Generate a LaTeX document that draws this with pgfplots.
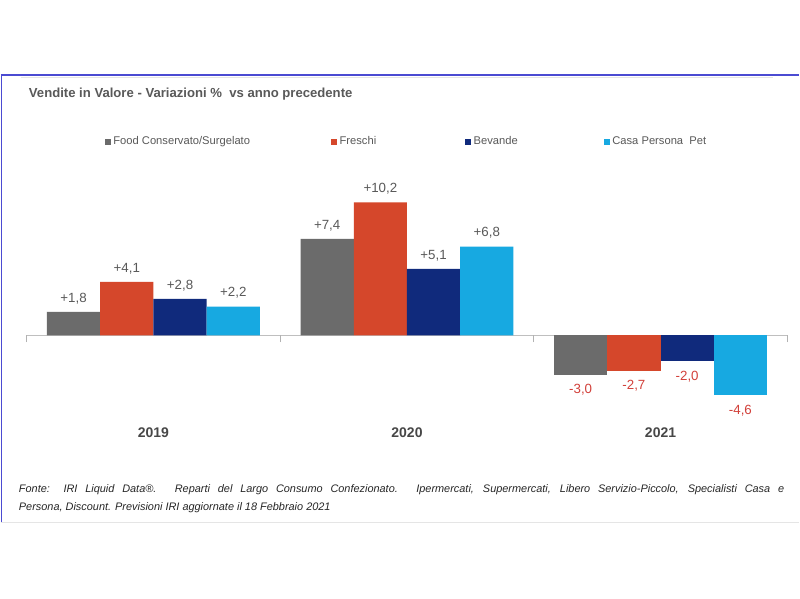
\documentclass[border=0pt]{standalone}
\usepackage{pgfplots}
\pgfplotsset{compat=1.18}
\usepackage{fontspec}
\setmainfont{Liberation Sans}
\definecolor{cGray}{HTML}{6B6B6B}
\definecolor{cRed}{HTML}{D5472B}
\definecolor{cNavy}{HTML}{102A7C}
\definecolor{cBlue}{HTML}{17A9E1}
\definecolor{txtGray}{HTML}{595959}
\definecolor{negRed}{HTML}{D2403A}
\definecolor{frameBlue}{HTML}{4B4BD2}
\begin{document}
\begin{tikzpicture}
\fill[white] (0,0) rectangle (600pt,450pt);
\draw[black!10, line width=0.8pt] (15pt,391.5pt) -- (580pt,391.5pt);
\draw[black!10, line width=0.8pt] (0pt,57.5pt) -- (600pt,57.5pt);
\draw[frameBlue, line width=1.1pt] (0pt,393.75pt) -- (600pt,393.75pt);
\draw[frameBlue, line width=1.1pt] (0.6pt,393.75pt) -- (0.6pt,57.5pt);
\node[anchor=base west, inner sep=0pt, font=\bfseries\fontsize{9.85}{11}\selectfont, text=txtGray] at (21pt,376.5pt) {Vendite in Valore - Variazioni \%\ \ vs anno precedente};
\begin{axis}[
  anchor=south west, at={(19.5pt,129.4pt)},
  x=190.5pt, y=9.8pt, xmin=-0.5, xmax=2.5, ymin=-7, ymax=12,
  axis x line=middle, axis y line=none,
  x axis line style={-, draw=black!25, line width=0.8pt},
  xtick={0,1,2}, xticklabels={2019,2020,2021}, major tick length=0pt,
  xticklabel style={font=\bfseries\fontsize{10.5}{12}\selectfont, text=black!72, yshift=-66pt},
  extra x ticks={-0.5,0.5,1.5,2.5}, extra x tick labels={},
  extra x tick style={major tick length=5pt, tick align=outside, tick style={draw=black!30, line width=0.6pt}},
  ytick=\empty,
  ybar, bar width=40pt, clip=false,
  point meta=explicit symbolic,
  nodes near coords,
  every node near coord/.append style={font=\fontsize{10}{12}\selectfont, text=txtGray, yshift=2.5pt},
  legend columns=4,
  legend image code/.code={\fill[#1] (0pt,-2.25pt) rectangle (4.5pt,2.25pt);},
  legend style={at={(0.097,1.15)}, anchor=west, draw=none, fill=none,
    font=\fontsize{8.4}{10}\selectfont, text=txtGray,
    /tikz/every even column/.append style={column sep=58.75pt}},
  neg/.style={every node near coord/.append style={text=negRed, anchor=north, yshift=-6.5pt}},
]
\addplot[fill=cGray, draw=none, bar shift=-60pt] coordinates {(0,1.8)[+1,8] (1,7.4)[+7,4]};
\addplot[fill=cRed, draw=none, bar shift=-20pt] coordinates {(0,4.1)[+4,1] (1,10.2)[+10,2]};
\addplot[fill=cNavy, draw=none, bar shift=20pt] coordinates {(0,2.8)[+2,8] (1,5.1)[+5,1]};
\addplot[fill=cBlue, draw=none, bar shift=60pt] coordinates {(0,2.2)[+2,2] (1,6.8)[+6,8]};
\legend{Food Conservato/Surgelato, Freschi\hspace*{6pt}, Bevande\hspace*{3.75pt}, Casa Persona\ \ Pet}
\addplot[fill=cGray, draw=none, bar shift=-60pt, forget plot, neg] coordinates {(2,-3.0)[-3,0]};
\addplot[fill=cRed, draw=none, bar shift=-20pt, forget plot, neg] coordinates {(2,-2.7)[-2,7]};
\addplot[fill=cNavy, draw=none, bar shift=20pt, forget plot, neg] coordinates {(2,-2.0)[-2,0]};
\addplot[fill=cBlue, draw=none, bar shift=60pt, forget plot, neg] coordinates {(2,-4.6)[-4,6]};
\end{axis}
\node[anchor=north west, text width=575pt, align=justify, inner sep=0pt, font=\itshape\fontsize{8.2}{13.5}\selectfont, text=black!85] at (13.5pt,86pt) {Fonte: IRI Liquid Data®. Reparti del Largo Consumo Confezionato. Ipermercati, Supermercati, Libero Servizio-Piccolo, Specialisti Casa e\linebreak Persona, Discount. Previsioni IRI aggiornate il 18 Febbraio 2021};
\end{tikzpicture}
\end{document}
